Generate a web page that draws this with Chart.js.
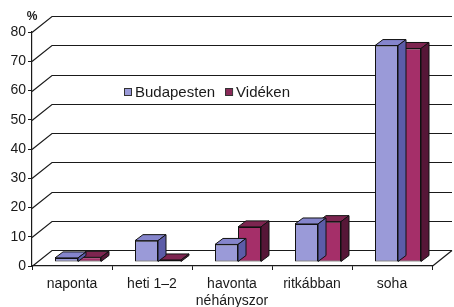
<!DOCTYPE html>
<html>
<head>
<meta charset="utf-8">
<script src="https://cdn.jsdelivr.net/npm/chart.js@4.4.0/dist/chart.umd.min.js"></script>
<style>
  html, body { margin: 0; padding: 0; background: #fff; }
  #wrap { width: 454px; height: 307px; }
</style>
</head>
<body>
<div id="wrap"><canvas id="myChart" width="454" height="307"></canvas></div>
<script>
// data
const categories = ['naponta', 'heti 1–2', ['havonta', 'néhányszor'], 'ritkábban', 'soha'];
const budapesten = [1.4, 7.3, 6, 13, 74];
const videken = [1.6, 0.7, 12, 13.8, 73];
const yTicks = [0, 10, 20, 30, 40, 50, 60, 70, 80];

// 3d look: wall depth, bar plane shift, bar depth
const WALL = { dx: 20, dy: -16 };
const PLANE = { dx: 6, dy: -4 };
const DEPTH = { dx: 8, dy: -6 };
const faces = [
  { front: '#9a9ad8', top: '#8585cc', side: '#5c5ca8' },
  { front: '#a52f69', top: '#7d2550', side: '#561637' }
];

const threeD = {
  id: 'threeD',
  beforeDatasetsDraw(chart) {
    const ctx = chart.ctx;
    const area = chart.chartArea;
    const y = chart.scales.y;
    ctx.save();
    ctx.strokeStyle = '#1a1a1a';
    ctx.lineWidth = 1.2;
    yTicks.forEach(v => {
      const py = Math.round(y.getPixelForValue(v)) + 0.5;
      ctx.beginPath();
      ctx.moveTo(area.left, py);
      ctx.lineTo(area.left + WALL.dx, py + WALL.dy);
      ctx.lineTo(area.right + WALL.dx, py + WALL.dy);
      ctx.stroke();
    });
    // right edge of the floor
    const by = Math.round(y.getPixelForValue(0)) + 0.5;
    ctx.beginPath();
    ctx.moveTo(area.right, by);
    ctx.lineTo(area.right + WALL.dx, by + WALL.dy);
    ctx.stroke();
    ctx.restore();

    // bars sit a bit behind the front edge
    ctx.save();
    ctx.translate(PLANE.dx, PLANE.dy);
  },
  afterDatasetDraw(chart, args) {
    const ctx = chart.ctx;
    const f = faces[args.index];
    args.meta.data.forEach(bar => {
      const l = bar.x - bar.width / 2;
      const r = bar.x + bar.width / 2;
      const t = bar.y;
      const b = bar.base;
      ctx.lineWidth = 1;
      ctx.strokeStyle = '#111';
      // top face
      ctx.beginPath();
      ctx.moveTo(l, t);
      ctx.lineTo(l + DEPTH.dx, t + DEPTH.dy);
      ctx.lineTo(r + DEPTH.dx, t + DEPTH.dy);
      ctx.lineTo(r, t);
      ctx.closePath();
      ctx.fillStyle = f.top;
      ctx.fill();
      ctx.stroke();
      // side face
      ctx.beginPath();
      ctx.moveTo(r, t);
      ctx.lineTo(r + DEPTH.dx, t + DEPTH.dy);
      ctx.lineTo(r + DEPTH.dx, b + DEPTH.dy);
      ctx.lineTo(r, b);
      ctx.closePath();
      ctx.fillStyle = f.side;
      ctx.fill();
      ctx.stroke();
    });
  },
  afterDatasetsDraw(chart) {
    const ctx = chart.ctx;
    ctx.restore();

    // '%' over the value axis
    ctx.save();
    ctx.fillStyle = '#1a1a1a';
    ctx.font = 'bold 12px "Liberation Sans", Arial, sans-serif';
    ctx.textAlign = 'center';
    ctx.textBaseline = 'middle';
    ctx.fillText('%', 32, 17);

    // legend inside the plot
    ctx.font = '15px "Liberation Sans", Arial, sans-serif';
    ctx.textAlign = 'left';
    let x = 124;
    const ly = 92;
    chart.data.datasets.forEach((ds, i) => {
      ctx.fillStyle = i === 0 ? '#9a9ad8' : '#8a2a58';
      ctx.fillRect(x, ly - 3.5, 7, 7);
      ctx.strokeStyle = '#333';
      ctx.strokeRect(x + 0.5, ly - 3.5, 7, 7);
      ctx.fillStyle = '#1a1a1a';
      ctx.fillText(ds.label, x + 11, ly + 1);
      x += 11 + ctx.measureText(ds.label).width + 10;
    });
    ctx.restore();
  }
};

new Chart(document.getElementById('myChart'), {
  type: 'bar',
  data: {
    labels: categories,
    datasets: [
      { label: 'Budapesten', data: budapesten, backgroundColor: faces[0].front,
        borderColor: '#111', borderWidth: 1, borderSkipped: false },
      { label: 'Vidéken', data: videken, backgroundColor: faces[1].front,
        borderColor: '#111', borderWidth: 1, borderSkipped: false }
    ]
  },
  options: {
    responsive: false,
    animation: false,
    layout: { padding: { top: 32, right: 22, left: 0, bottom: 0 } },
    datasets: { bar: { categoryPercentage: 0.575, barPercentage: 1 } },
    plugins: { legend: { display: false }, tooltip: { enabled: false } },
    scales: {
      x: {
        afterFit: s => { s.height = 41; },
        grid: { drawOnChartArea: false, tickLength: 4, color: '#1a1a1a' },
        border: { color: '#1a1a1a', width: 1.2 },
        ticks: { color: '#1a1a1a', padding: 6, maxRotation: 0, autoSkip: false,
                 font: { family: '"Liberation Sans", Arial, sans-serif', size: 14 } }
      },
      y: {
        min: 0,
        max: 80,
        afterFit: s => { s.width = 32; },
        grid: { drawOnChartArea: false, tickLength: 4, color: '#1a1a1a' },
        border: { color: '#1a1a1a', width: 1.2 },
        ticks: { stepSize: 10, color: '#1a1a1a', padding: 2,
                 font: { family: '"Liberation Sans", Arial, sans-serif', size: 14 } }
      }
    }
  },
  plugins: [threeD]
});
</script>
</body>
</html>
